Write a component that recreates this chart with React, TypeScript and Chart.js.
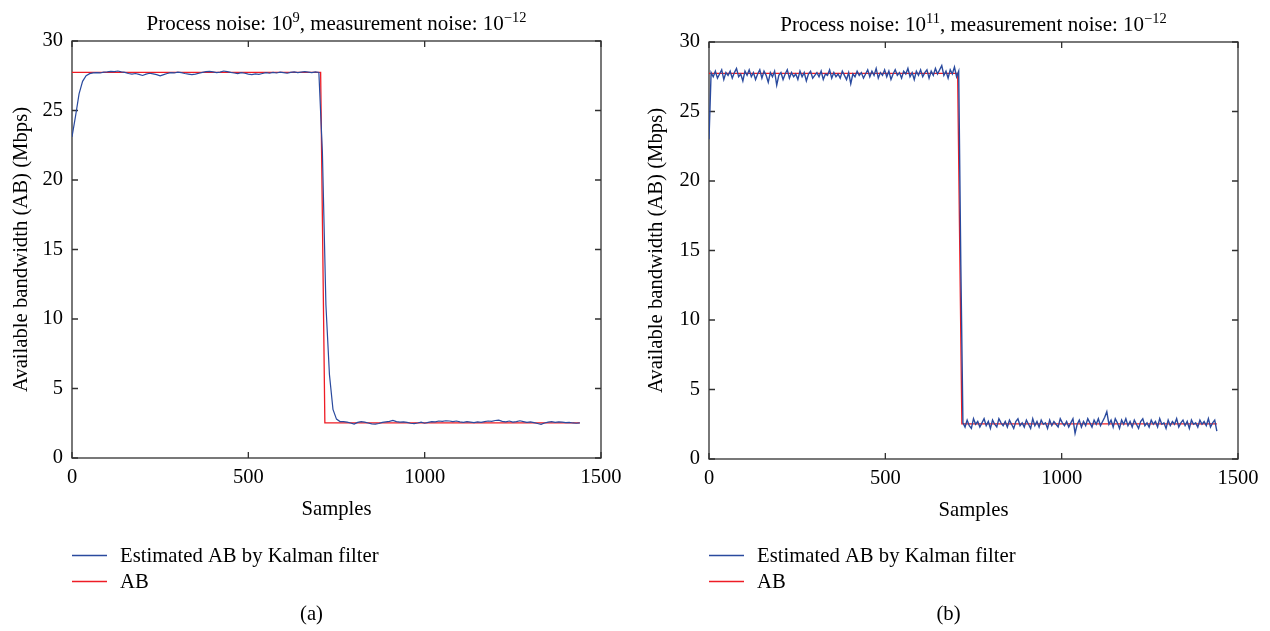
import React, { useEffect, useRef } from "react";
import { Chart, registerables } from "chart.js";

Chart.register(...registerables);

const FONT = '"Liberation Serif", "Times New Roman", serif';
const BLUE = "#2a4a9e";
const RED = "#ee1c25";
const AXIS = "#303030";

// axis ticks
const xTicks = [0, 500, 1000, 1500];
const yTicks = [0, 5, 10, 15, 20, 25, 30];

// true available bandwidth (AB)
const abSamples = [0, 705, 717, 1440];
const abValues = [27.75, 27.75, 2.52, 2.52];

// (a) Kalman estimate, one value every 10 samples (0..1440)
const estAStep = 10;
const estA = [
  23.1, 24.6, 26.2, 27.1, 27.5, 27.65, 27.7,
  27.72, 27.7, 27.76, 27.78, 27.82, 27.8, 27.84, 27.78, 27.74, 27.66,
  27.62, 27.66, 27.6, 27.52, 27.62, 27.68, 27.64, 27.58, 27.5, 27.58,
  27.66, 27.72, 27.7, 27.76, 27.72, 27.66, 27.62, 27.58, 27.62, 27.68,
  27.74, 27.8, 27.82, 27.78, 27.72, 27.76, 27.84, 27.8, 27.74, 27.7,
  27.66, 27.72, 27.68, 27.62, 27.58, 27.64, 27.6, 27.66, 27.72, 27.68,
  27.74, 27.7, 27.76, 27.72, 27.68, 27.74, 27.78, 27.72, 27.76, 27.8,
  27.76, 27.72, 27.78, 27.74,
  22.0, 11.0, 6.0, 3.5, 2.8, 2.62,
  2.62, 2.58, 2.52, 2.44, 2.56, 2.62, 2.58, 2.52, 2.46, 2.44,
  2.48, 2.56, 2.6, 2.64, 2.7, 2.62, 2.58, 2.6, 2.56, 2.5,
  2.48, 2.52, 2.58, 2.5, 2.56, 2.62, 2.6, 2.66, 2.64, 2.68,
  2.66, 2.62, 2.66, 2.6, 2.56, 2.62, 2.58, 2.54, 2.6, 2.56,
  2.62, 2.66, 2.64, 2.7, 2.72, 2.64, 2.6, 2.66, 2.58, 2.62,
  2.68, 2.62, 2.56, 2.6, 2.54, 2.48, 2.42, 2.52, 2.58, 2.62,
  2.56, 2.6, 2.58, 2.54, 2.56, 2.52, 2.5, 2.52,
];

// (b) Kalman estimate, one value every 6 samples (0..1440)
const estBStep = 6;
const estB = [
  23.0,
  27.8, 27.5, 27.9, 27.4, 27.7, 28.0, 27.3, 27.8, 27.6, 27.9,
  27.4, 27.8, 28.1, 27.5, 27.7, 27.2, 27.9, 27.6, 28.0, 27.5,
  27.8, 27.3, 27.7, 28.0, 27.4, 27.9, 27.6, 27.1, 27.8, 27.5,
  27.9, 26.9, 27.6, 27.8, 27.3, 27.7, 28.0, 27.4, 27.8, 27.5,
  27.7, 27.3, 27.9, 27.5, 27.8, 27.2, 27.7, 27.9, 27.4, 27.6,
  27.8, 27.5, 27.9, 27.3, 27.7, 27.6, 28.0, 27.4, 27.8, 27.5,
  27.7, 27.4, 27.9, 27.6, 27.3, 27.8, 27.0, 27.7, 27.5, 27.9,
  27.6, 27.8, 27.4, 27.7, 28.0, 27.5, 27.9, 27.6, 28.1, 27.4,
  27.8, 27.6, 28.0, 27.5, 27.9, 27.3, 27.7, 28.0, 27.6, 27.8,
  27.4, 27.9, 27.7, 28.1, 27.5, 27.8, 27.3, 27.9, 27.6, 28.0,
  27.5, 27.8, 28.0, 27.4, 27.9, 27.6, 28.1, 27.7, 28.0, 28.3,
  27.6, 27.9, 27.4, 28.0, 27.7, 28.2, 27.5, 27.9,
  14.0,
  2.6,
  2.3, 2.8, 2.4, 2.2, 2.9, 2.5, 2.7, 2.3, 2.6, 2.9,
  2.4, 2.7, 2.2, 2.8, 2.5, 2.3, 2.9, 2.6, 2.4, 2.7,
  2.3, 2.8, 2.5, 2.2, 2.7, 2.9, 2.4, 2.6, 2.3, 2.8,
  2.5, 2.2, 2.9, 2.4, 2.7, 2.3, 2.8, 2.5, 2.6, 2.2,
  2.8, 2.4, 2.7, 2.5, 2.3, 2.9, 2.6, 2.4, 2.7, 2.3,
  2.6, 2.9, 1.85, 2.5, 2.8, 2.3, 2.7, 2.4, 2.9, 2.6,
  2.3, 2.8, 2.5, 2.9, 2.4, 2.7, 3.0, 3.4, 2.5, 2.8,
  2.3, 2.9, 2.6, 2.2, 2.8, 2.5, 2.9, 2.4, 2.7, 2.3,
  2.8, 2.5, 2.2, 2.7, 2.9, 2.4, 2.6, 2.3, 2.8, 2.5,
  2.7, 2.3, 2.9, 2.5, 2.6, 2.2, 2.8, 2.4, 2.7, 2.5,
  2.9, 2.3, 2.6, 2.8, 2.4, 2.7, 2.2, 2.8, 2.5, 2.6,
  2.3, 2.8, 2.5, 2.7, 2.4, 2.9, 2.3, 2.6, 2.8, 2.0,
];

const legendLabels = ["Estimated AB by Kalman filter", "AB"];
const xTitle = "Samples";
const yTitle = "Available bandwidth (AB) (Mbps)";

type Part = { t: string; sup?: boolean };
const titleA: Part[] = [
  { t: "Process noise: 10" },
  { t: "9", sup: true },
  { t: ", measurement noise: 10" },
  { t: "\u221212", sup: true },
];
const titleB: Part[] = [
  { t: "Process noise: 10" },
  { t: "11", sup: true },
  { t: ", measurement noise: 10" },
  { t: "\u221212", sup: true },
];

type PanelCfg = {
  offset: number;
  left: number;
  right: number;
  top: number;
  bottom: number;
  title: Part[];
  caption: string;
  captionX: number;
  est: number[];
  step: number;
  estWidth: number;
};

const W = 635;
const H = 631;
const TICK = 6;

const panels: PanelCfg[] = [
  { offset: 0, left: 72, right: 601, top: 41, bottom: 458, title: titleA, caption: "(a)", captionX: 311.5, est: estA, step: estAStep, estWidth: 1.2 },
  { offset: 635, left: 74, right: 603, top: 42, bottom: 459, title: titleB, caption: "(b)", captionX: 313.5, est: estB, step: estBStep, estWidth: 1.4 },
];

function buildConfig(cfg: PanelCfg): any {
  const estData = cfg.est.map((v, i) => ({ x: i * cfg.step, y: v }));
  const abData = abSamples.map((s, i) => ({ x: s, y: abValues[i] }));

  const decor = {
    id: "decor",
    beforeDatasetsDraw(chart: any) {
      const { ctx, chartArea: a, scales } = chart;
      ctx.save();
      ctx.strokeStyle = AXIS;
      ctx.lineWidth = 1.3;
      ctx.strokeRect(a.left, a.top, a.right - a.left, a.bottom - a.top);
      ctx.beginPath();
      for (const v of xTicks) {
        const p = scales.x.getPixelForValue(v);
        ctx.moveTo(p, a.bottom);
        ctx.lineTo(p, a.bottom - TICK);
        ctx.moveTo(p, a.top);
        ctx.lineTo(p, a.top + TICK);
      }
      for (const v of yTicks) {
        const p = scales.y.getPixelForValue(v);
        ctx.moveTo(a.left, p);
        ctx.lineTo(a.left + TICK, p);
        ctx.moveTo(a.right, p);
        ctx.lineTo(a.right - TICK, p);
      }
      ctx.stroke();
      ctx.restore();
    },
    afterDraw(chart: any) {
      const { ctx, chartArea: a } = chart;
      const cx = (a.left + a.right) / 2;
      ctx.save();
      ctx.fillStyle = "#000";
      // title with superscripts
      const tbig = `21px ${FONT}`;
      const tsmall = `14.5px ${FONT}`;
      const body = `20.7px ${FONT}`;
      let total = 0;
      for (const p of cfg.title) {
        ctx.font = p.sup ? tsmall : tbig;
        total += ctx.measureText(p.t).width;
      }
      let x = cx - total / 2;
      const base = a.top - 11;
      ctx.textBaseline = "alphabetic";
      ctx.textAlign = "left";
      for (const p of cfg.title) {
        ctx.font = p.sup ? tsmall : tbig;
        ctx.fillText(p.t, x, p.sup ? base - 8 : base);
        x += ctx.measureText(p.t).width;
      }
      // x title
      ctx.font = body;
      ctx.textAlign = "center";
      ctx.fillText(xTitle, cx, a.bottom + 57);
      // y title
      ctx.save();
      ctx.translate(22, (a.top + a.bottom) / 2);
      ctx.rotate(-Math.PI / 2);
      ctx.textBaseline = "middle";
      ctx.fillText(yTitle, 0, 0);
      ctx.restore();
      // legend
      const ds = chart.data.datasets;
      const rows = [555.5, 581.5];
      ctx.textAlign = "left";
      ctx.textBaseline = "alphabetic";
      ds.forEach((d: any, i: number) => {
        ctx.strokeStyle = d.borderColor;
        ctx.lineWidth = 1.3;
        ctx.beginPath();
        ctx.moveTo(a.left, rows[i]);
        ctx.lineTo(a.left + 35, rows[i]);
        ctx.stroke();
        ctx.fillText(d.label, a.left + 48, rows[i] + 6.5);
      });
      // caption
      ctx.textAlign = "center";
      ctx.fillText(cfg.caption, cfg.captionX, 620);
      ctx.restore();
    },
  };

  return {
    type: "line",
    data: {
      datasets: [
        { label: legendLabels[0], data: estData, borderColor: BLUE, borderWidth: cfg.estWidth, pointRadius: 0, tension: 0, fill: false },
        { label: legendLabels[1], data: abData, borderColor: RED, borderWidth: 1.3, pointRadius: 0, tension: 0, fill: false },
      ],
    },
    options: {
      animation: false,
      responsive: false,
      maintainAspectRatio: false,
      events: [],
      layout: { padding: { left: 0, right: W - cfg.right, top: cfg.top, bottom: 0 } },
      plugins: { legend: { display: false }, title: { display: false }, tooltip: { enabled: false } },
      scales: {
        x: {
          type: "linear",
          min: 0,
          max: 1500,
          afterBuildTicks: (s: any) => {
            s.ticks = xTicks.map((v) => ({ value: v }));
          },
          afterFit: (s: any) => {
            s.height = H - cfg.bottom;
            s.paddingLeft = 0;
            s.paddingRight = 0;
          },
          grid: { display: false, drawTicks: false },
          border: { display: false },
          ticks: {
            font: { family: FONT, size: 20.5 },
            color: "#000",
            padding: 7,
            maxRotation: 0,
            autoSkip: false,
            callback: (v: any) => String(v),
          },
        },
        y: {
          type: "linear",
          min: 0,
          max: 30,
          afterBuildTicks: (s: any) => {
            s.ticks = yTicks.map((v) => ({ value: v }));
          },
          afterFit: (s: any) => {
            s.width = cfg.left;
            s.paddingTop = 0;
            s.paddingBottom = 0;
          },
          grid: { display: false, drawTicks: false },
          border: { display: false },
          ticks: {
            font: { family: FONT, size: 20.5 },
            color: "#000",
            padding: 9,
            autoSkip: false,
            callback: (v: any) => String(v),
          },
        },
      },
    },
    plugins: [decor],
  };
}

function Panel({ cfg }: { cfg: PanelCfg }) {
  const ref = useRef<HTMLCanvasElement>(null);
  useEffect(() => {
    const chart = new Chart(ref.current as HTMLCanvasElement, buildConfig(cfg));
    return () => chart.destroy();
  }, [cfg]);
  return (
    <canvas
      ref={ref}
      width={W}
      height={H}
      style={{ position: "absolute", left: cfg.offset, top: 0, width: W, height: H }}
    />
  );
}

export default function App() {
  return (
    <div style={{ position: "absolute", left: 0, top: 0, width: 1270, height: 631, background: "#fff", overflow: "hidden" }}>
      {panels.map((p) => (
        <Panel key={p.caption} cfg={p} />
      ))}
    </div>
  );
}
